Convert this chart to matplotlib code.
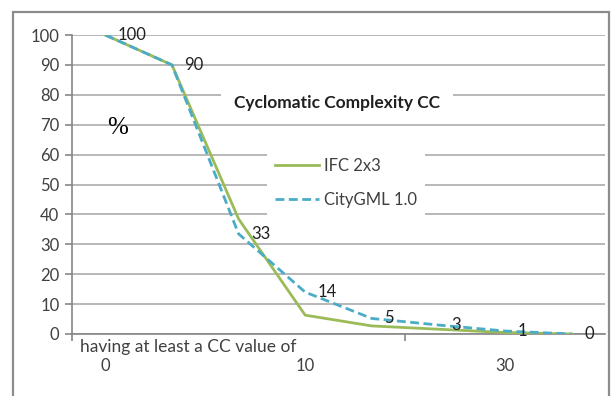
import matplotlib
matplotlib.use("Agg")
import matplotlib.pyplot as plt
from matplotlib.patches import Rectangle

# values (8 categories, labels shown only at 0, 10, 30)
categories = ["0", "", "", "10", "", "", "30", ""]
ifc = [100, 90, 38.5, 6.3, 2.7, 1.6, 0.5, 0]
citygml = [100, 90, 33.5, 14, 5.2, 3, 1, 0]
point_labels = ["100", "90", "33", "14", "5", "3", "1", "0"]
yticks = list(range(0, 101, 10))

green = "#9bbb59"
blue = "#4bacc6"
grid_gray = "#ababab"
axis_gray = "#868686"
txt = "#404040"

plt.rcParams["font.family"] = ["Lato", "DejaVu Sans"]
fs = 12

fig = plt.figure(figsize=(6.16, 3.96), dpi=100)
ax = fig.add_axes([72 / 616, 1 - 334 / 396, 533 / 616, 299 / 396])

x = list(range(len(categories)))
ax.plot(x, ifc, color=green, lw=2.0, solid_joinstyle="round", label="IFC 2x3", zorder=3)
ax.plot(x, citygml, color=blue, lw=2.0, ls=(0, (3.2, 1.6)), label="CityGML 1.0", zorder=3)

# data labels to the right of CityGML points
for xi, yi, s in zip(x, citygml, point_labels):
    ax.annotate(s, (xi, yi), xytext=(9, 0), textcoords="offset points",
                ha="left", va="center", fontsize=fs, color="#202020", zorder=4)

ax.set_xlim(-0.5, len(categories) - 0.5)
ax.set_ylim(0, 100)
ax.set_yticks(yticks)
ax.yaxis.grid(True, color=grid_gray, lw=1.2)
ax.set_axisbelow(True)

show = [i for i, c in enumerate(categories) if c]
ax.set_xticks(show)
ax.set_xticklabels([categories[i] for i in show])
ax.set_xticks([-0.5, 4.5], minor=True)
ax.tick_params(axis="x", which="major", length=0, pad=17, labelsize=fs, labelcolor=txt)
ax.tick_params(axis="x", which="minor", length=5, color=axis_gray, width=1.2)
ax.tick_params(axis="y", length=5, color=axis_gray, width=1.2, labelsize=fs, labelcolor=txt, pad=4)

for s in ["top", "right"]:
    ax.spines[s].set_visible(False)
for s in ["left", "bottom"]:
    ax.spines[s].set_color(axis_gray)
    ax.spines[s].set_linewidth(1.2)

# chart title with white box hiding the gridlines behind it
ax.text(0.497, 0.774, "Cyclomatic Complexity CC", transform=ax.transAxes,
        ha="center", va="center", fontsize=12.5, fontweight="bold", color="#202020",
        bbox=dict(boxstyle="square,pad=0.75", fc="white", ec="none"), zorder=5)

leg = ax.legend(loc="upper left", bbox_to_anchor=(0.35, 0.645), fontsize=fs,
                handlelength=2.6, handletextpad=0.3, labelspacing=1.1,
                borderpad=0.5, frameon=True, fancybox=False, framealpha=1)
leg.get_frame().set_edgecolor("none")
for t in leg.get_texts():
    t.set_color(txt)

ax.text(0.085, 0.69, "%", transform=ax.transAxes, fontsize=18,
        family="Liberation Serif", color="black", ha="center", va="center")

ax.text(8 / 533, -0.042, "having at least a CC value of", transform=ax.transAxes,
        ha="left", va="center", fontsize=fs + 0.5, color=txt)

# outer chart border
fig.add_artist(Rectangle((13 / 616, -0.05), 596 / 616, 1.05 - 12 / 396,
                         transform=fig.transFigure, fill=False,
                         ec="#8c8c8c", lw=1.6))

fig.savefig("out.png", dpi=100)
